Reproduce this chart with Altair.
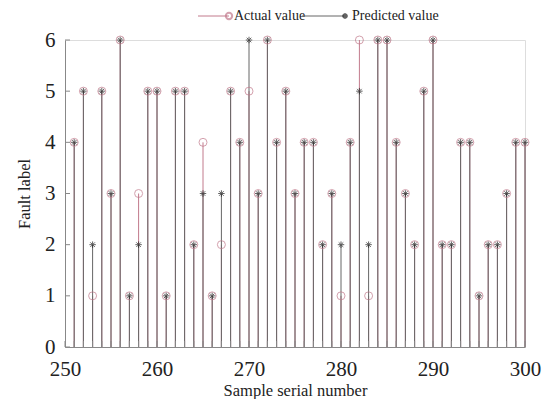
import altair as alt
import pandas as pd

samples = list(range(251, 301))
actual = [4, 5, 1, 5, 3, 6, 1, 3, 5, 5,
          1, 5, 5, 2, 4, 1, 2, 5, 4, 5,
          3, 6, 4, 5, 3, 4, 4, 2, 3, 1,
          4, 6, 1, 6, 6, 4, 3, 2, 5, 6,
          2, 2, 4, 4, 1, 2, 2, 3, 4, 4]
predicted = [4, 5, 2, 5, 3, 6, 1, 2, 5, 5,
             1, 5, 5, 2, 3, 1, 3, 5, 4, 6,
             3, 6, 4, 5, 3, 4, 4, 2, 3, 2,
             4, 5, 2, 6, 6, 4, 3, 2, 5, 6,
             2, 2, 4, 4, 1, 2, 2, 3, 4, 4]
x_ticks = list(range(250, 301))
y_ticks = [0, 1, 2, 3, 4, 5, 6]

df = pd.DataFrame({"sample": samples, "actual": actual, "predicted": predicted, "zero": 0})

FONT = "Liberation Serif"
PINK = "#c27a8c"
GRAY = "#666666"
STAR = "M-1,0L1,0M0,-1L0,1M-0.7,-0.7L0.7,0.7M-0.7,0.7L0.7,-0.7"
H = 307

xscale = alt.Scale(domain=[250, 300], nice=False, zero=False)
yscale = alt.Scale(domain=[0, 6], nice=False)

xenc = alt.X("sample:Q", scale=xscale,
             axis=alt.Axis(title="Sample serial number", values=[250, 260, 270, 280, 290, 300],
                           ticks=False, grid=False, labelFontSize=21, titleFontSize=16.5,
                           labelPadding=11, titlePadding=3, domainColor="#888",
                           labelFlush=False, labelOverlap=False,
                           labelFont=FONT, titleFont=FONT, labelColor="#222", titleColor="#222",
                           titleFontWeight="normal"))
yenc = alt.Y("actual:Q", scale=yscale,
             axis=alt.Axis(title="Fault label", values=y_ticks, ticks=False, grid=False,
                           labelFontSize=21, titleFontSize=16.5, labelPadding=10, titlePadding=12,
                           labelFlush=False, labelOverlap=False,
                           domainColor="#888", labelFont=FONT, titleFont=FONT,
                           labelColor="#222", titleColor="#222", titleFontWeight="normal"))

base = alt.Chart(df)

stem_actual = base.mark_rule(color=PINK, strokeWidth=1).encode(
    x=xenc, y=yenc, y2="zero:Q")
stem_pred = base.mark_rule(color=GRAY, strokeWidth=1).encode(
    x=alt.X("sample:Q", scale=xscale), y=alt.Y("predicted:Q", scale=yscale), y2="zero:Q")
pt_actual = base.mark_point(shape="circle", filled=False, color=PINK, size=64, strokeWidth=1).encode(
    x=alt.X("sample:Q", scale=xscale), y=alt.Y("actual:Q", scale=yscale))
pt_pred = base.mark_point(shape=STAR, filled=False, color="#222", size=42, strokeWidth=1).encode(
    x=alt.X("sample:Q", scale=xscale), y=alt.Y("predicted:Q", scale=yscale))

# inward ticks
xt = alt.Chart(pd.DataFrame({"t": x_ticks})).mark_rule(color="#888", strokeWidth=1).encode(
    x=alt.X("t:Q", scale=xscale), y=alt.value(H), y2=alt.value(H - 6))
yt = alt.Chart(pd.DataFrame({"t": y_ticks})).mark_rule(color="#888", strokeWidth=1).encode(
    y=alt.Y("t:Q", scale=yscale), x=alt.value(0), x2=alt.value(5))

# legend
leg = pd.DataFrame({"k": [0]})
lg = alt.Chart(leg)
legend = alt.layer(
    lg.mark_rule(color=PINK, strokeWidth=1).encode(x=alt.value(133), x2=alt.value(164), y=alt.value(-24)),
    lg.mark_point(shape="circle", filled=False, color=PINK, size=40).encode(x=alt.value(164), y=alt.value(-24)),
    lg.mark_text(text="Actual value", align="left", baseline="middle", font=FONT, fontSize=14, color="#222").encode(
        x=alt.value(169), y=alt.value(-24)),
    lg.mark_rule(color=GRAY, strokeWidth=1).encode(x=alt.value(237), x2=alt.value(279), y=alt.value(-24)),
    lg.mark_point(shape=STAR, filled=False, color="#222", size=30).encode(x=alt.value(280), y=alt.value(-24)),
    lg.mark_text(text="Predicted value", align="left", baseline="middle", font=FONT, fontSize=14, color="#222").encode(
        x=alt.value(287), y=alt.value(-24)),
)

chart = alt.layer(stem_actual, stem_pred, pt_actual, pt_pred, xt, yt, legend).properties(
    width=460, height=H,
    autosize=alt.AutoSizeParams(type="none"),
    padding={"left": 57, "top": 32, "right": 20, "bottom": 52},
).configure_view(stroke=None).configure(background="white")

chart.save("out.html", embed_options={"renderer": "svg", "actions": False})
